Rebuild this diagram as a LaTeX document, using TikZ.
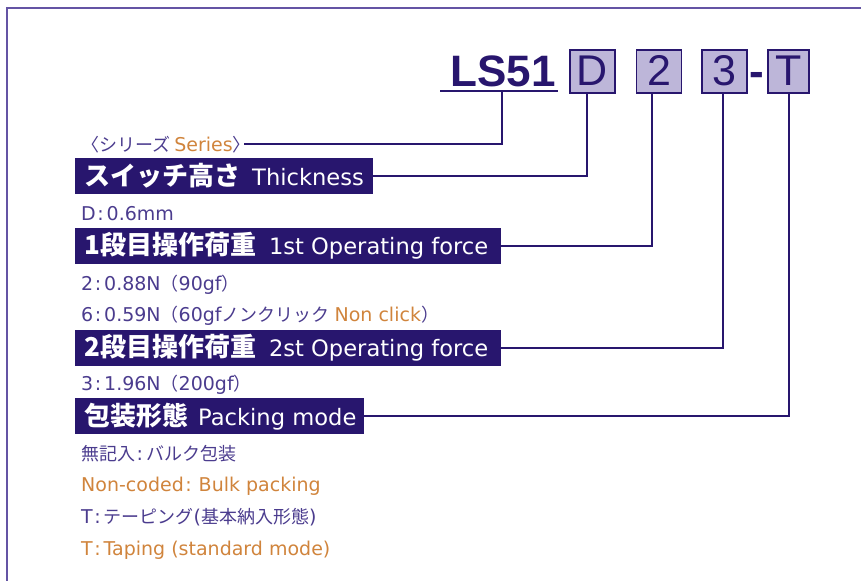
\documentclass[tikz,border=0pt]{standalone}
\usepackage{fontspec}
\setmainfont{DejaVu Sans}
\newfontfamily\jp{Noto Sans CJK JP}
\newfontfamily\arl{Liberation Sans}
\definecolor{navy}{HTML}{28166E}
\definecolor{lav}{HTML}{BDB6D9}
\definecolor{subc}{HTML}{4B3C8E}
\definecolor{orng}{HTML}{D0843C}
\definecolor{framec}{HTML}{6454A4}
\newcommand\hdjp[1]{{\jp\bfseries\fontsize{26}{30}\selectfont #1}}
\newcommand\hdlat[1]{{\fontsize{22.6}{26}\selectfont #1}}
\newcommand\sbjp[1]{{\jp\fontsize{18}{20}\selectfont #1}}
\newcommand\sblat[1]{{\fontsize{19}{21}\selectfont #1}}
\newcommand\cln{{\fontsize{19}{21}\selectfont\kern1.5pt:\kern3pt}}
\tikzset{
  hdr/.style={fill=navy, text=white, inner xsep=9pt, inner ysep=0pt, minimum height=36pt,
    text height=19pt, text depth=1pt, anchor=west},
  sub/.style={anchor=base west, inner sep=0pt, text=subc},
  conn/.style={draw=navy, line width=2pt},
  codebox/.style={draw=navy, line width=1.2pt, fill=lav, minimum width=45pt, minimum height=43pt,
    inner sep=0pt, text height=31pt, text depth=3pt, text=navy, font=\arl\fontsize{43}{43}\selectfont},
  bigcode/.style={inner sep=0pt, anchor=base, text=navy, font=\arl\bfseries\fontsize{44}{44}\selectfont},
}
\begin{document}
\begin{tikzpicture}[x=1pt,y=-1pt]
\useasboundingbox (0,0) rectangle (861,581);
% frame
\draw[framec, line width=1.6pt] (861,8) -- (7,8) -- (7,581);

% code row
\node[bigcode] (ls) at (503,86) {LS51};
\node[codebox] (bD) at (592.5,71.5) {D};
\node[codebox] (b2) at (659.2,71.5) {2};
\node[codebox] (b3) at (724.5,71.5) {3};
\node[bigcode] (dash) at (757,86) {-};
\node[codebox, minimum width=41pt] (bT) at (788.5,71.5) {T};
\coordinate (ulL) at (440,91);
\coordinate (ulR) at (558,91);
\draw[conn] (ulL) -- (ulR);

% series line
\node[sub, text height=16pt, text depth=1pt] (series) at (81,151.5)
  {\sbjp{〈シリーズ}\hspace{4pt}\sblat{\color{orng}Series}\sbjp{〉}};

% headers
\node[hdr] (thick) at (75,176) {\makebox[280pt][l]{\hdjp{スイッチ高さ}\hspace{12pt}\hdlat{Thickness}}};
\node[sub] (d06) at (81,220) {\sblat{D}\cln\sblat{0.6mm}};
\node[hdr] (op1) at (75,245.5) {\makebox[408pt][l]{\hdjp{1段目操作荷重}\hspace{13pt}\hdlat{1st Operating force}}};
\node[sub] (f2) at (81,290) {\sblat{2}\cln\sblat{0.88N}\sbjp{（}\sblat{90gf}\sbjp{）}};
\node[sub] (f6) at (81,321.7) {\sblat{6}\cln\sblat{0.59N}\sbjp{（}\sblat{60gf}\sbjp{ノンクリック}\hspace{5pt}\sblat{\color{orng}Non click}\sbjp{）}};
\node[hdr] (op2) at (75,347.5) {\makebox[408pt][l]{\hdjp{2段目操作荷重}\hspace{13pt}\hdlat{2st Operating force}}};
\node[sub] (f3) at (81,390.7) {\sblat{3}\cln\sblat{1.96N}\sbjp{（}\sblat{200gf}\sbjp{）}};
\node[hdr] (pack) at (75,416) {\makebox[271pt][l]{\hdjp{包装形態}\hspace{10pt}\hdlat{Packing mode}}};
\node[sub] (bulkjp) at (81,460.5) {\sbjp{無記入}\cln\sbjp{バルク包装}};
\node[sub, text=orng] (bulken) at (81,491.7) {\sblat{Non-coded}\cln\kern4pt\sblat{Bulk packing}};
\node[sub] (tapejp) at (81,523.3) {\sblat{T}\cln\sbjp{テーピング}\sblat{(}\sbjp{基本納入形態}\sblat{)}};
\node[sub, text=orng] (tapeen) at (81,555.7) {\sblat{T}\cln\sblat{Taping (standard mode)}};

% connectors
\coordinate (xLS) at (501.7,0);
\coordinate (xD) at (587,0);
\coordinate (x2) at (652,0);
\coordinate (x3) at (723,0);
\coordinate (xT) at (789,0);
\draw[conn, shorten >=-7pt] (ulL -| xLS) |- (series.east);
\draw[conn] (bD.south -| xD) |- (thick.east);
\draw[conn] (b2.south -| x2) |- (op1.east);
\draw[conn] (b3.south -| x3) |- (op2.east);
\draw[conn] (bT.south -| xT) |- (pack.east);
\end{tikzpicture}
\end{document}
